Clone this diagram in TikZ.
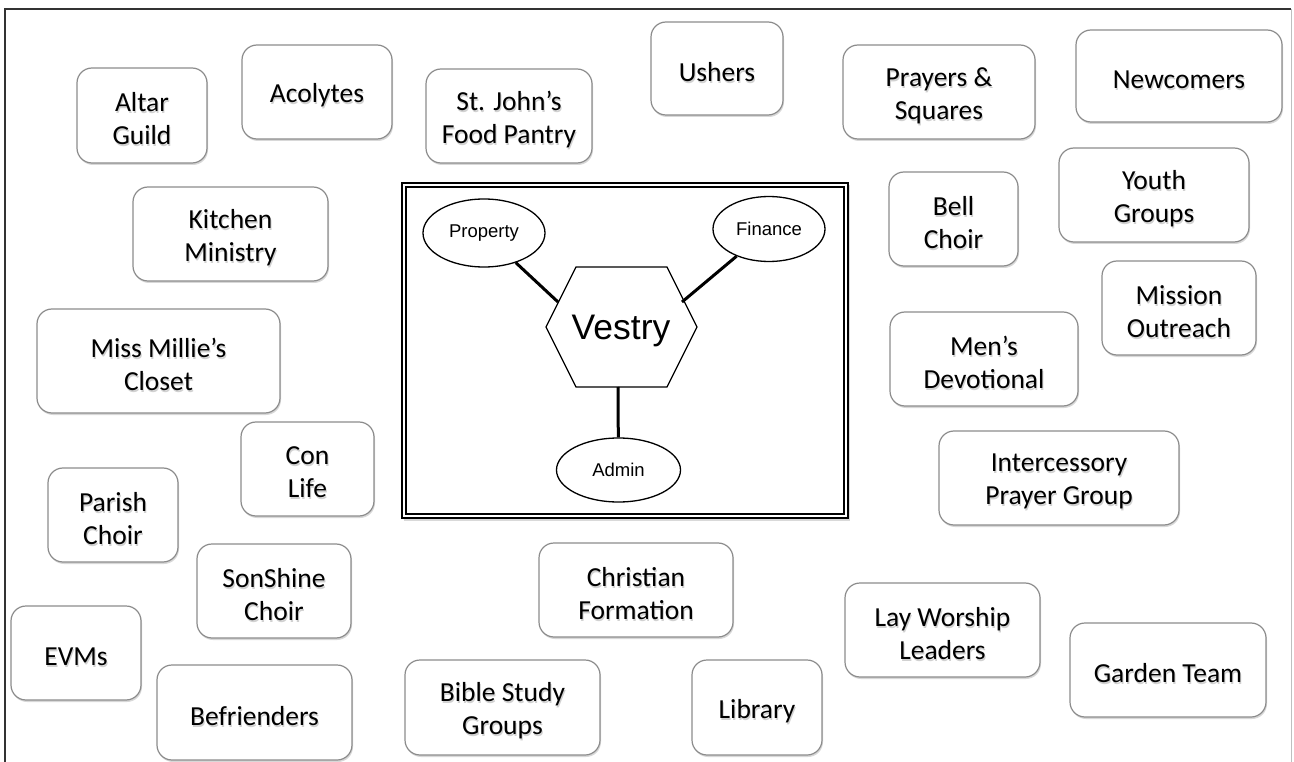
\documentclass[tikz,border=0pt]{standalone}
\usepackage{fontspec}
\setmainfont{Carlito}
\newfontfamily\arialf{Liberation Sans}
\usetikzlibrary{shapes.geometric,shadows}
\tikzset{
  gbox/.style={draw=black!45, line width=1.2pt, rounded corners=15pt, fill=white,
    inner sep=0pt,
    drop shadow={shadow xshift=1pt, shadow yshift=-2pt, opacity=0.25, fill=black!60}},
  gtext/.style={align=center, inner sep=0pt, font=\fontsize{27.5}{33}\selectfont},
  gshade/.style={gtext, text=black, opacity=0.18},
  oval/.style={draw=black, line width=1.3pt, ellipse, fill=white, inner sep=0pt,
    font=\arialf\fontsize{18.5}{22}\selectfont},
  hexline/.style={draw=black, line width=1.3pt, fill=white},
  link/.style={line width=3pt, black},
  frameline/.style={line width=2pt, black},
}
\begin{document}
\begin{tikzpicture}[x=1pt,y=-1pt]
\useasboundingbox (0,0) rectangle (1294,762);
\fill[white] (0,0) rectangle (1294,762);
% outer frame
\coordinate (f1) at (5,762);
\coordinate (f2) at (5,9);
\coordinate (f3) at (1291,9);
\coordinate (f4) at (1291,762);
\draw[line width=1.3pt, black!80] (f1) -- (f2) -- (f3);
\draw[line width=1pt, black!25] (f3) -- (f4);

% boxes
\newcommand{\gb}[6]{%
  \node[gbox, minimum width=#4, minimum height=#5] (#1) at (#2,#3) {};
  \node[gshade] (#1-s) at ([xshift=1pt,yshift=-5.5pt]#1.center) {#6};
  \node[gtext] (#1-t) at ([yshift=-3.5pt]#1.center) {#6};}
\gb{altar}{142}{115.5}{130pt}{95pt}{Altar\\Guild}
\gb{acolytes}{317}{92}{150pt}{94pt}{Acolytes}
\gb{pantry}{509}{116}{166pt}{94pt}{St. John’s\\Food Pantry}
\gb{ushers}{717}{68.5}{132pt}{93pt}{Ushers}
\gb{prayers}{939}{92}{192pt}{94pt}{Prayers \&\\Squares}
\gb{newcomers}{1179}{76}{206pt}{92pt}{Newcomers}
\gb{kitchen}{230.5}{234}{195pt}{94pt}{Kitchen\\Ministry}
\gb{bell}{953.5}{219}{129pt}{94pt}{Bell\\Choir}
\gb{youth}{1154}{195}{190pt}{94pt}{Youth\\Groups}
\gb{mission}{1179}{308}{154pt}{94pt}{Mission\\Outreach}
\gb{millie}{158.5}{361}{243pt}{104pt}{Miss Millie’s\\Closet}
\gb{mens}{984}{359}{188pt}{94pt}{Men’s\\Devotional}
\gb{conlife}{307.5}{469}{133pt}{94pt}{Con\\Life}
\gb{intercessory}{1059}{478}{240pt}{94pt}{Intercessory\\Prayer Group}
\gb{parish}{113}{515}{130pt}{94pt}{Parish\\Choir}
\gb{sonshine}{274}{591}{154pt}{94pt}{SonShine\\Choir}
\gb{formation}{636}{590}{194pt}{94pt}{Christian\\Formation}
\gb{lay}{942.5}{630}{195pt}{94pt}{Lay Worship\\Leaders}
\gb{garden}{1168}{670}{196pt}{94pt}{Garden Team}
\gb{evms}{76}{653}{130pt}{94pt}{EVMs}
\gb{befrienders}{254.5}{712.5}{195pt}{95pt}{Befrienders}
\gb{bible}{502.5}{707.5}{195pt}{95pt}{Bible Study\\Groups}
\gb{library}{757}{707.5}{130pt}{95pt}{Library}

% central double frame
\coordinate (c1) at (402,183);
\coordinate (c2) at (848,518);
\coordinate (c3) at (406,187);
\coordinate (c4) at (844,514);
\fill[black, opacity=0.15] ([xshift=1.5pt,yshift=-2.5pt]c1) rectangle ([xshift=1.5pt,yshift=-2.5pt]c2);
\fill[white] (c1) rectangle (c2);
\draw[frameline] (c1) rectangle (c2);
\draw[line width=1.3pt] (c3) rectangle (c4);

% vestry hexagon
\coordinate (h1) at (576,267);
\coordinate (h2) at (667,267);
\coordinate (h3) at (697,327);
\coordinate (h4) at (667,387);
\coordinate (h5) at (576,387);
\coordinate (h6) at (546,327);
\draw[hexline] (h1) -- (h2) -- (h3) -- (h4) -- (h5) -- (h6) -- cycle;
\node[font=\arialf\fontsize{35.5}{40}\selectfont, inner sep=0pt] (vestry) at (621,331) {Vestry};
\coordinate (vs) at (618,387);
\node[oval, minimum width=122pt, minimum height=68pt] (property) at (484,233) {Property};
\node[oval, minimum width=112pt, minimum height=65pt] (finance) at (769,229) {Finance};
\node[oval, minimum width=124pt, minimum height=64pt] (admin) at (618.5,470) {Admin};
\coordinate (pv) at (558,302);
\coordinate (fv) at (682,302);
\draw[link] (property) -- (pv);
\draw[link] (finance) -- (fv);
\draw[link] (vs) -- (admin);
\end{tikzpicture}
\end{document}
